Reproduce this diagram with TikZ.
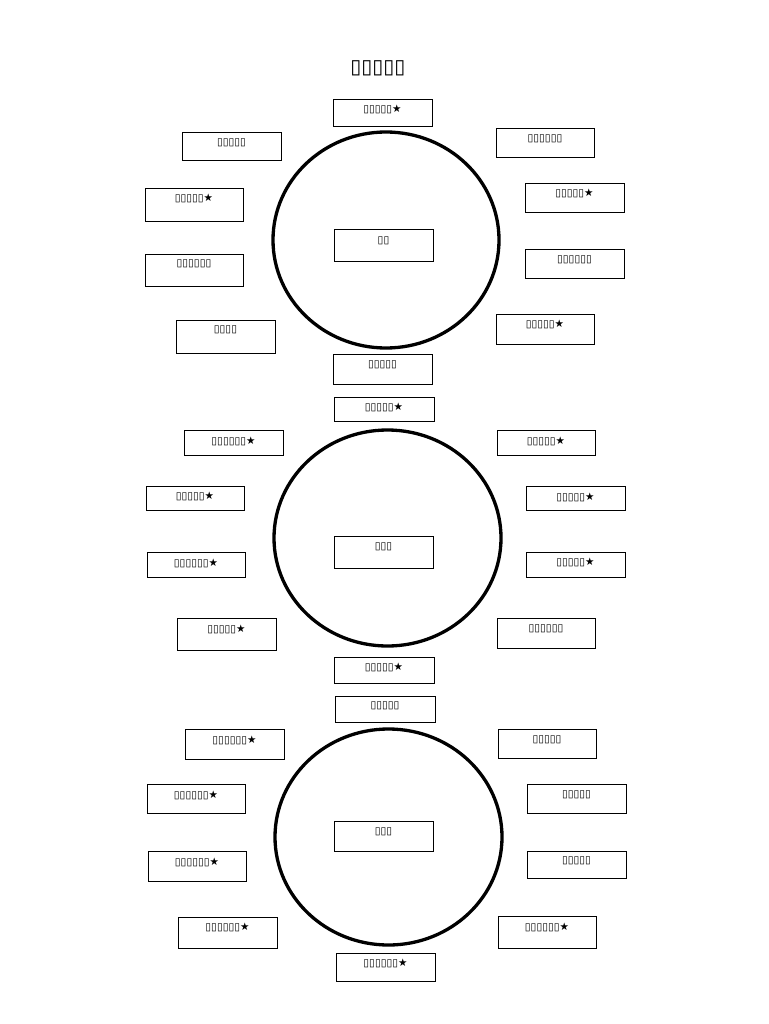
\documentclass[tikz,border=0pt]{standalone}
\usepackage{fontspec}
\setmainfont{DejaVu Sans}
\begin{document}
\begin{tikzpicture}[x=1pt,y=1pt,
  box/.style={draw=black, line width=0.9pt, rectangle, inner sep=0pt, outer sep=0pt, fill=white},
  txt/.style={inner sep=0pt, font=\fontsize{10.5}{12}\selectfont},
  ring/.style={draw=black, line width=3.3pt},
  ttl/.style={inner sep=0pt, font=\fontsize{20}{24}\selectfont}]
\useasboundingbox[fill=white] (0,0) rectangle (768,-1024);
\newcommand\bx[7]{%
  \node[box, minimum width={(#4-#2)*1pt}, minimum height={(#5-#3)*1pt}] (#1) at ({(#2+#4)/2},{-(#3+#5)/2}) {};
  \node[txt] (#1t) at ({(#2+#4)/2},{-#7}) {#6};}
\node[ttl] (title) at (378,-68) {▯▯▯▯▯};
% circles
\draw[ring] (386,-240) ellipse [x radius=113, y radius=108];
\draw[ring] (387.5,-538) ellipse [x radius=113.5, y radius=108];
\draw[ring] (388.5,-837) ellipse [x radius=113.5, y radius=108];
% section 1
\bx{a0}{333}{99}{432}{126}{▯▯▯▯▯★}{109}
\bx{a1}{182}{132}{281}{160}{▯▯▯▯▯}{143}
\bx{a2}{145}{188}{243}{221}{▯▯▯▯▯★}{198}
\bx{a3}{145}{254}{243}{286}{▯▯▯▯▯▯}{264}
\bx{a4}{176}{320}{275}{353}{▯▯▯▯}{330}
\bx{ac}{334}{229}{433}{261}{▯▯}{241}
\bx{a5}{333}{354}{432}{384}{▯▯▯▯▯}{365}
\bx{a6}{496}{128}{594}{157}{▯▯▯▯▯▯}{139}
\bx{a7}{525}{183}{624}{212}{▯▯▯▯▯★}{193}
\bx{a8}{525}{249}{624}{278}{▯▯▯▯▯▯}{260}
\bx{a9}{496}{314}{594}{344}{▯▯▯▯▯★}{324}
% section 2
\bx{b0}{334}{397}{434}{421}{▯▯▯▯▯★}{407}
\bx{b1}{184}{430}{283}{455}{▯▯▯▯▯▯★}{441}
\bx{b2}{146}{486}{244}{510}{▯▯▯▯▯★}{496}
\bx{b3}{147}{552}{245}{577}{▯▯▯▯▯▯★}{563}
\bx{b4}{177}{618}{276}{650}{▯▯▯▯▯★}{629}
\bx{bc}{334}{536}{433}{568}{▯▯▯}{547}
\bx{b5}{334}{657}{434}{683}{▯▯▯▯▯★}{667}
\bx{b6}{497}{430}{595}{455}{▯▯▯▯▯★}{441}
\bx{b7}{526}{486}{625}{510}{▯▯▯▯▯★}{497}
\bx{b8}{526}{552}{625}{577}{▯▯▯▯▯★}{562}
\bx{b9}{497}{618}{595}{648}{▯▯▯▯▯▯}{629}
% section 3
\bx{c0}{335}{696}{435}{722}{▯▯▯▯▯}{706}
\bx{c1}{185}{729}{284}{759}{▯▯▯▯▯▯★}{740}
\bx{c2}{147}{784}{245}{813}{▯▯▯▯▯▯★}{795}
\bx{c3}{148}{851}{246}{881}{▯▯▯▯▯▯★}{862}
\bx{c4}{178}{917}{277}{948}{▯▯▯▯▯▯★}{927}
\bx{cc}{334}{821}{433}{851}{▯▯▯}{832}
\bx{c5}{336}{953}{435}{981}{▯▯▯▯▯▯★}{963}
\bx{c6}{498}{729}{596}{758}{▯▯▯▯▯}{740}
\bx{c7}{527}{784}{626}{813}{▯▯▯▯▯}{795}
\bx{c8}{527}{851}{626}{878}{▯▯▯▯▯}{861}
\bx{c9}{498}{916}{596}{948}{▯▯▯▯▯▯★}{927}
\end{tikzpicture}
\end{document}
